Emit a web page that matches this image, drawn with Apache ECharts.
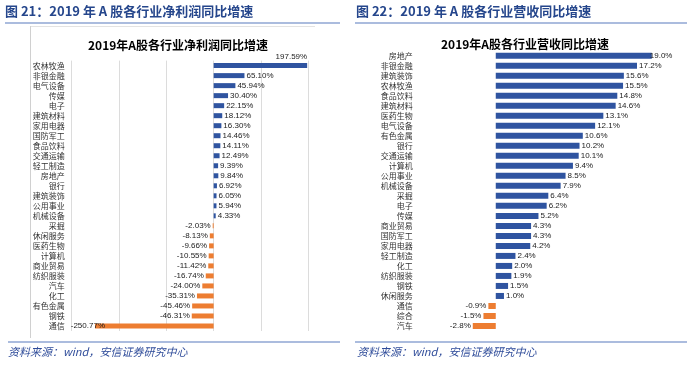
<!DOCTYPE html>
<html><head><meta charset="utf-8">
<script src="https://cdn.jsdelivr.net/npm/echarts@6/dist/echarts.min.js"></script>
<style>html,body{margin:0;padding:0;background:#fff}#c{width:700px;height:366px}</style>
</head><body><div id="c"></div>
<script>
var profitCats = ['农林牧渔','非银金融','电气设备','传媒','电子','建筑材料','家用电器','国防军工','食品饮料','交通运输','轻工制造','房地产','银行','建筑装饰','公用事业','机械设备','采掘','休闲服务','医药生物','计算机','商业贸易','纺织服装','汽车','化工','有色金属','钢铁','通信'];
var profitVals = [197.59,65.10,45.94,30.40,22.15,18.12,16.30,14.46,14.11,12.49,9.39,9.84,6.92,6.05,5.94,4.33,-2.03,-8.13,-9.66,-10.55,-11.42,-16.74,-24.00,-35.31,-45.46,-46.31,-250.77];
var revCats = ['房地产','非银金融','建筑装饰','农林牧渔','食品饮料','建筑材料','医药生物','电气设备','有色金属','银行','交通运输','计算机','公用事业','机械设备','采掘','电子','传媒','商业贸易','国防军工','家用电器','轻工制造','化工','纺织服装','钢铁','休闲服务','通信','综合','汽车'];
var revVals = [19.0,17.2,15.6,15.5,14.8,14.6,13.1,12.1,10.6,10.2,10.1,9.4,8.5,7.9,6.4,6.2,5.2,4.3,4.3,4.2,2.4,2.0,1.9,1.5,1.0,-0.9,-1.5,-2.8];
var profitTicks = [-300,-200,-100,0,100,200];

var BLUE = '#2F54A0', ORANGE = '#ED7D31';
var catFont = '"Noto Sans CJK SC", sans-serif';
var numFont = '"Liberation Sans", Arial, sans-serif';

function items(vals, special) {
  return vals.map(function (v, i) {
    var it = {
      value: v,
      itemStyle: { color: v < 0 ? ORANGE : BLUE },
      label: { position: v < 0 ? 'left' : 'right', distance: 2 }
    };
    if (special && special[i]) it.label = Object.assign(it.label, special[i]);
    return it;
  });
}

var chart = echarts.init(document.getElementById('c'), null, { renderer: 'canvas' });
var hdrColor = '#25468C';
var option = {
  animation: false,
  title: [
    { text: '2019年A股各行业净利润同比增速', left: 173, top: 34, textAlign: 'center',
      textStyle: { fontSize: 12, fontWeight: 'bold', color: '#000', fontFamily: catFont } },
    { text: '2019年A股各行业营收同比增速', left: 520, top: 33, textAlign: 'center',
      textStyle: { fontSize: 12, fontWeight: 'bold', color: '#000', fontFamily: catFont } }
  ],
  graphic: [
    { type: 'text', left: 5, top: 5, style: { text: '图 21：2019 年 A 股各行业净利润同比增速', fill: hdrColor, font: 'bold 13px "Noto Sans CJK SC", sans-serif' } },
    { type: 'text', left: 356, top: 5, style: { text: '图 22：2019 年 A 股各行业营收同比增速', fill: hdrColor, font: 'bold 13px "Noto Sans CJK SC", sans-serif' } },
    { type: 'line', shape: { x1: 5, y1: 23, x2: 340, y2: 23 }, style: { stroke: '#8FA6D3', lineWidth: 1.5 } },
    { type: 'line', shape: { x1: 355, y1: 23, x2: 687, y2: 23 }, style: { stroke: '#8FA6D3', lineWidth: 1.5 } },
    { type: 'line', shape: { x1: 31, y1: 26.5, x2: 315, y2: 26.5 }, style: { stroke: '#E3E3E3', lineWidth: 1 } },
    { type: 'line', shape: { x1: 30.5, y1: 26, x2: 30.5, y2: 338 }, style: { stroke: '#D0D0D0', lineWidth: 1 } },
    { type: 'line', shape: { x1: 8, y1: 342, x2: 340, y2: 342 }, style: { stroke: '#8FA6D3', lineWidth: 1.5 } },
    { type: 'line', shape: { x1: 355, y1: 342, x2: 687, y2: 342 }, style: { stroke: '#8FA6D3', lineWidth: 1.5 } },
    { type: 'text', left: 8, top: 346, style: { text: '资料来源：wind，安信证券研究中心', fill: '#2F4C9A', font: 'italic 11px "Noto Sans CJK SC", sans-serif' } },
    { type: 'text', left: 357, top: 346, style: { text: '资料来源：wind，安信证券研究中心', fill: '#2F4C9A', font: 'italic 11px "Noto Sans CJK SC", sans-serif' } }
  ],
  grid: [
    { left: 71.7, top: 60.6, width: 236.6, height: 270.4, containLabel: false },
    { left: 454.7, top: 50.7, width: 205.3, height: 280.3, containLabel: false }
  ],
  xAxis: [
    { gridIndex: 0, type: 'value', min: profitTicks[0], max: profitTicks[profitTicks.length - 1], interval: 100,
      axisLabel: { show: false }, axisLine: { show: false }, axisTick: { show: false },
      splitLine: { show: true, lineStyle: { color: '#DCDCDC', width: 1 } } },
    { gridIndex: 1, type: 'value', min: -5, max: 20,
      axisLabel: { show: false }, axisLine: { show: false }, axisTick: { show: false }, splitLine: { show: false } }
  ],
  yAxis: [
    { gridIndex: 0, type: 'category', data: profitCats, inverse: true,
      axisLine: { show: false }, axisTick: { show: false },
      axisLabel: { interval: 0, margin: 7, fontSize: 8, color: '#333', fontFamily: catFont } },
    { gridIndex: 1, type: 'category', data: revCats, inverse: true,
      axisLine: { show: false }, axisTick: { show: false },
      axisLabel: { interval: 0, margin: 42, fontSize: 8, color: '#333', fontFamily: catFont } }
  ],
  series: [
    { type: 'bar', xAxisIndex: 0, yAxisIndex: 0, barWidth: 5,
      data: items(profitVals, {
        0: { position: 'insideRight', offset: [2, -9], distance: 2 },
        26: { distance: -10 }
      }),
      label: { show: true, fontSize: 8, color: '#222', fontFamily: numFont,
        formatter: function (p) { return p.value.toFixed(2) + '%'; } } },
    { type: 'bar', xAxisIndex: 1, yAxisIndex: 1, barWidth: 6,
      data: items(revVals, { 0: { distance: -2 } }),
      label: { show: true, fontSize: 8, color: '#222', fontFamily: numFont,
        formatter: function (p) { return p.value.toFixed(1) + '%'; } } }
  ]
};
chart.setOption(option);
</script></body></html>
